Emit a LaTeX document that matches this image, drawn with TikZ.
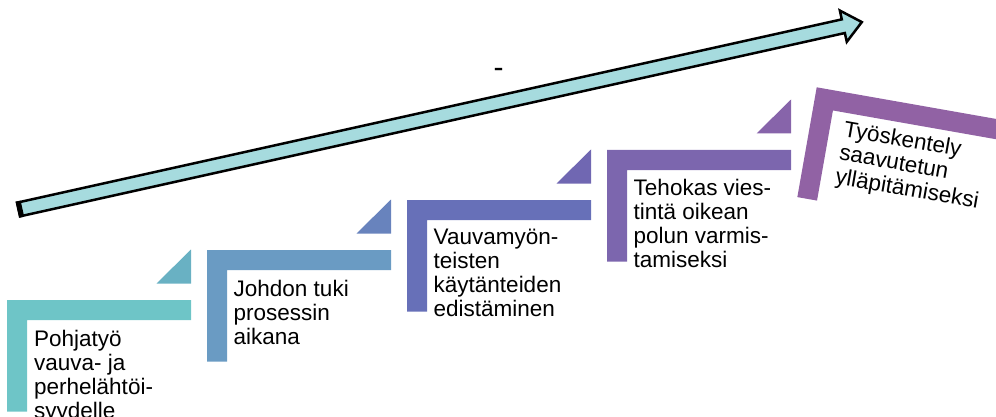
\documentclass[tikz,border=0pt]{standalone}
\usepackage{fontspec}
\setmainfont{Liberation Sans}
\definecolor{ca}{HTML}{6EC5C7}
\definecolor{ta}{HTML}{69B1C3}
\definecolor{cb}{HTML}{6A9BC3}
\definecolor{tb}{HTML}{6883BD}
\definecolor{cc}{HTML}{6770B8}
\definecolor{tc}{HTML}{7067B2}
\definecolor{cd}{HTML}{7C66AE}
\definecolor{td}{HTML}{8764AA}
\definecolor{ce}{HTML}{9162A4}
\definecolor{arrowfill}{HTML}{A6DBDE}
\begin{document}
\begin{tikzpicture}[x=1pt,y=-1pt,
  steptext/.style={anchor=north west, inner sep=0pt, align=left,
    font=\fontsize{22.5}{24}\selectfont, text=black},
  bigarrow/.style={fill=arrowfill, draw=black, line width=2.5pt, line join=miter}]
\useasboundingbox (0,0) rectangle (996,417);
\clip (0,0) rectangle (996,417);
% steps 1-4
\foreach \k/\cs/\ct in {0/ca/ta, 1/cb/tb, 2/cc/tc, 3/cd/td}{
  \fill[\cs] ({7+200*\k},{300-50*\k}) -- ++(184,0) -- ++(0,20) -- ++(-164,0)
     -- ++(0,91.5) -- ++(-20,0) -- cycle;
  \fill[\ct] ({156.5+200*\k},{283.5-50*\k}) -- ({191+200*\k},{283.5-50*\k})
     -- ({191+200*\k},{249.5-50*\k}) -- cycle;
}
\node[steptext] (s1) at (34,330) {Pohjatyö\\vauva- ja\\perhelähtöi-\\syydelle};
\node[steptext] (s2) at (233.5,279.5) {Johdon tuki\\prosessin\\aikana};
\node[steptext] (s3) at (433.5,229) {Vauvamyön-\\teisten\\käytänteiden\\edistäminen};
\node[steptext] (s4) at (633.5,179) {Tehokas vies-\\tintä oikean\\polun varmis-\\tamiseksi};
% step 5 (tilted)
\begin{scope}[shift={(816.7,87.3)}, rotate=-10]
  \fill[ce] (0,0) -- (186,0) -- (186,20) -- (20,20) -- (20,111.5) -- (0,111.5) -- cycle;
  \node[steptext, rotate=-10] (s5) at (34,27) {Työskentely\\saavutetun\\ylläpitämiseksi};
\end{scope}
% big arrow
\begin{scope}[shift={(18.5,209.5)}, rotate=12.53]
  \coordinate (tail) at (0,0);
  \coordinate (tip) at (864,0);
  \draw[bigarrow] (tail) ++(0,-7) -- (845,-7) -- (845,-16) -- (tip) -- (845,16)
     -- (845,7) -- (0,7) -- cycle;
  \draw[line width=5pt] (1.5,-8.2) -- (1.5,8.2);
\end{scope}
\node[font=\fontsize{30}{30}\selectfont, inner sep=0pt] (dash) at (498.5,72.5) {-};
\end{tikzpicture}
\end{document}
